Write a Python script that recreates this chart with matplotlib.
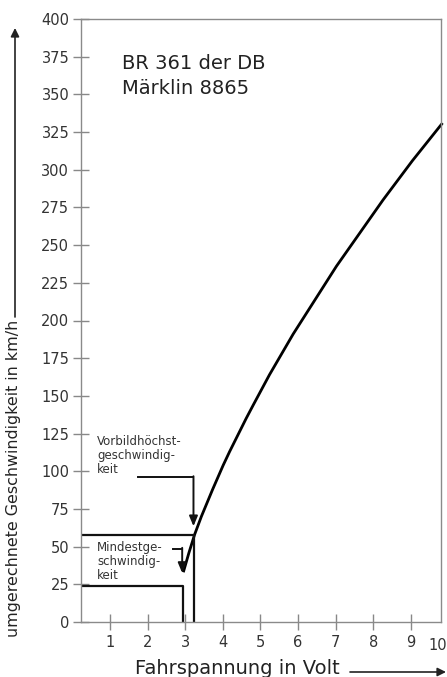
import matplotlib
matplotlib.use("Agg")
import matplotlib.pyplot as plt
from matplotlib.patches import FancyArrowPatch

plt.rcParams['font.family'] = ['DejaVu Sans']

# curve: driving voltage (V) vs scaled speed (km/h)
volt = [2.95, 3.10, 3.25, 3.43, 3.73, 4.01, 4.18, 4.62, 4.81, 5.24, 5.87,
        7.02, 8.26, 9.04, 9.84]
speed = [33, 46, 58, 70, 88, 104, 113, 135, 144, 164, 191,
         236, 280, 306, 331]

x_ticks = [1, 2, 3, 4, 5, 6, 7, 8, 9]
x_extra_tick = "10"
y_ticks = [0, 25, 50, 75, 100, 125, 150, 175, 200, 225, 250, 275, 300, 325, 350, 375, 400]

# marker levels
min_volt, min_speed = 2.95, 24
max_volt, max_speed = 3.24, 58

title_text = "BR 361 der DB\nMärklin 8865"
label_vorbild = "Vorbildhöchst-\ngeschwindig-\nkeit"
label_mindest = "Mindestge-\nschwindig-\nkeit"
xlabel = "Fahrspannung in Volt"
ylabel = "umgerechnete Geschwindigkeit in km/h"

W, H = 447, 677
fig = plt.figure(figsize=(W / 100, H / 100), dpi=100)
ax = fig.add_axes([81 / W, 55 / H, 360 / W, 603 / H])

xmin, xmax = 0.23, 9.8
ax.set_xlim(xmin, xmax)
ax.set_ylim(0, 400)

for s in ax.spines.values():
    s.set_color('#8a8a8a')
    s.set_linewidth(1.0)

ax.set_xticks(x_ticks)
ax.set_xticklabels([str(t) for t in x_ticks])
ax.set_yticks(y_ticks)
ax.set_yticklabels([str(t) for t in y_ticks])
ax.tick_params(axis='both', direction='inout', length=11, width=1.0,
               color='#888888', labelcolor='#333333', labelsize=10.5)
ax.tick_params(axis='x', pad=4)
ax.tick_params(axis='y', pad=3)
# tick label "10" at the right edge
fig.text(447 / W, 1 - 645 / H, x_extra_tick, fontsize=10.5, color='#333333',
         ha='right', va='center')

# curve
ax.plot(volt, speed, color='black', lw=2.0, clip_on=False,
        solid_capstyle='butt', solid_joinstyle='round')

# guide lines
ax.plot([xmin, max_volt, max_volt], [max_speed, max_speed, 0], color='#111111', lw=1.6)
ax.plot([xmin, min_volt, min_volt], [min_speed, min_speed, 0], color='#111111', lw=1.6)

# annotations
ax.text(0.66, 124, label_vorbild, fontsize=8.5, color='#333333', va='top', ha='left',
        linespacing=1.1)
ax.plot([1.74, 3.22], [96, 96], color='#111111', lw=1.4)
ax.annotate('', xy=(3.22, 63.5), xytext=(3.22, 96.7),
            arrowprops=dict(arrowstyle='-|>,head_length=0.6,head_width=0.25',
                            color='#111111', lw=1.4, shrinkA=0, shrinkB=0))

ax.text(0.66, 54, label_mindest, fontsize=8.5, color='#333333', va='top', ha='left',
        linespacing=1.1)
ax.plot([2.67, 2.92], [48.5, 48.5], color='#111111', lw=1.4)
ax.annotate('', xy=(2.92, 32.5), xytext=(2.92, 49.2),
            arrowprops=dict(arrowstyle='-|>,head_length=0.6,head_width=0.25',
                            color='#111111', lw=1.4, shrinkA=0, shrinkB=0))

# title
ax.text(1.31, 377, title_text, fontsize=14, color='#222222', va='top', ha='left',
        linespacing=1.4)

# axis labels with arrows
fig.text(135 / W, 1 - 668 / H, xlabel, fontsize=14, color='#222222',
         ha='left', va='center')
fig.add_artist(FancyArrowPatch((350 / W, 5 / H), (446 / W, 5 / H),
                               transform=fig.transFigure,
                               arrowstyle='-|>,head_length=5,head_width=2.5',
                               color='#222222', lw=1.2, shrinkA=0, shrinkB=0))

fig.text(14 / W, 1 - 637 / H, ylabel, fontsize=11.4, color='#222222', rotation=90,
         ha='center', va='bottom')
fig.add_artist(FancyArrowPatch((15 / W, 1 - 317 / H), (15 / W, 1 - 28 / H),
                               transform=fig.transFigure,
                               arrowstyle='-|>,head_length=5,head_width=2.5',
                               color='#222222', lw=1.2, shrinkA=0, shrinkB=0))

fig.savefig("out.png", dpi=100)
